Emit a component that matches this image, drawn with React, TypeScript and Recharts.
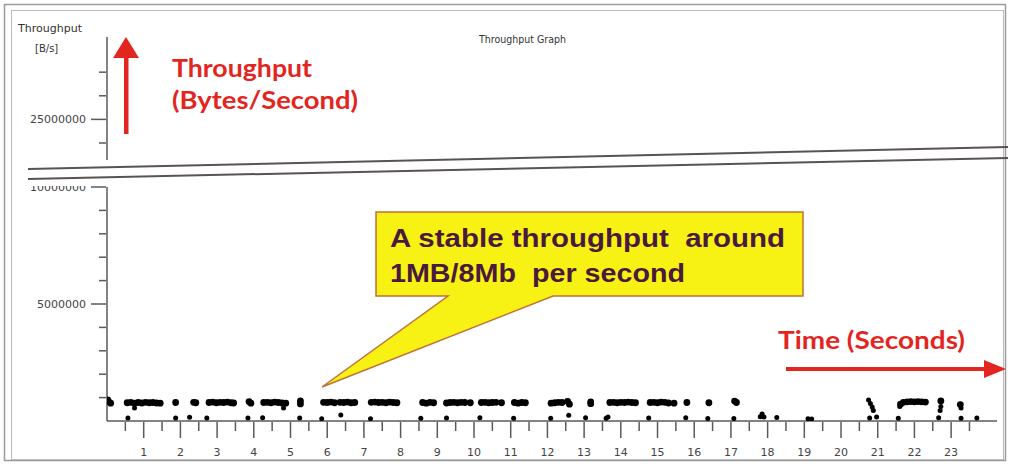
import { ScatterChart, Scatter, XAxis, YAxis } from 'recharts';

// time [s] / throughput [B/s]
const steadyTime = [
  0.02, 0.05, 0.1,
  0.55, 0.65, 0.75, 0.85, 0.95, 1.05, 1.15, 1.25, 1.35, 1.45,
  1.87, 2.36, 2.42,
  2.78, 2.88, 2.98, 3.08, 3.18, 3.28, 3.38, 3.45,
  3.87, 3.92,
  4.27, 4.37, 4.47, 4.57, 4.67, 4.77, 4.87,
  5.27, 5.27,
  5.9, 6.0, 6.1, 6.2, 6.35, 6.45, 6.55, 6.65, 6.75,
  7.2, 7.3, 7.4, 7.5, 7.6, 7.7, 7.8, 7.9,
  8.6, 8.7, 8.8, 8.9,
  9.25, 9.35, 9.45, 9.55, 9.65, 9.75, 9.9,
  10.2, 10.3, 10.4, 10.5, 10.6, 10.75,
  11.1, 11.2, 11.3, 11.4,
  12.1, 12.2, 12.3, 12.4, 12.55, 12.6,
  13.18, 13.18,
  13.7, 13.8, 13.9, 14.0, 14.1, 14.2, 14.3, 14.4,
  14.8, 14.9, 15.0, 15.1, 15.2, 15.3, 15.45,
  15.8, 16.4, 17.1, 17.15,
  21.62, 21.7, 21.8, 21.9, 22.0, 22.1, 22.2, 22.3,
  22.72, 23.25,
];
const steadyRate = [
  900000, 820000, 760000,
  780000, 800000, 760000, 790000, 770000, 800000, 780000, 790000, 770000, 760000,
  790000, 800000, 780000,
  790000, 810000, 780000, 800000, 790000, 810000, 780000, 770000,
  830000, 760000,
  790000, 800000, 780000, 810000, 790000, 770000, 760000,
  860000, 730000,
  800000, 790000, 810000, 780000, 800000, 790000, 810000, 780000, 790000,
  800000, 810000, 790000, 800000, 780000, 810000, 790000, 780000,
  790000, 760000, 800000, 780000,
  770000, 790000, 800000, 780000, 800000, 790000, 780000,
  790000, 800000, 780000, 790000, 800000, 780000,
  790000, 760000, 790000, 780000,
  760000, 780000, 800000, 790000, 840000, 720000,
  820000, 740000,
  790000, 800000, 780000, 800000, 790000, 810000, 790000, 780000,
  790000, 800000, 780000, 810000, 800000, 770000, 760000,
  790000, 780000, 850000, 790000,
  720000, 800000, 820000, 830000, 820000, 830000, 820000, 810000,
  860000, 700000,
];
const lowTime = [
  0.57, 0.75, 1.87, 2.25, 2.72, 3.84, 4.24, 4.81, 5.25, 5.85, 6.37, 7.18, 8.55,
  9.25, 10.16, 11.08, 12.09, 12.58, 13.04, 13.6, 13.65, 14.76, 15.77, 16.37,
  17.08, 17.8, 17.85, 17.9, 18.25, 19.1, 19.2, 20.75, 20.8, 20.85, 20.88, 20.78,
  20.97, 21.56, 21.6, 22.66, 22.7, 22.72, 23.27, 23.27, 23.7,
];
const lowRate = [
  130000, 560000, 130000, 160000, 130000, 130000, 140000, 560000, 130000, 100000,
  260000, 100000, 120000, 130000, 140000, 120000, 120000, 250000, 140000, 120000,
  170000, 130000, 140000, 110000, 110000, 180000, 300000, 170000, 150000, 100000,
  90000, 900000, 750000, 600000, 450000, 130000, 170000, 120000, 620000, 140000,
  450000, 620000, 560000, 120000, 130000,
];

const timeTicks = [
  0.5, 1, 1.5, 2, 2.5, 3, 3.5, 4, 4.5, 5, 5.5, 6, 6.5, 7, 7.5, 8, 8.5, 9, 9.5, 10,
  10.5, 11, 11.5, 12, 12.5, 13, 13.5, 14, 14.5, 15, 15.5, 16, 16.5, 17, 17.5, 18,
  18.5, 19, 19.5, 20, 20.5, 21, 21.5, 22, 22.5, 23, 23.5,
];
const lowerTicks = [1000000, 2000000, 3000000, 4000000, 5000000, 6000000, 7000000, 8000000, 9000000, 10000000];
const lowerLabels = [5000000, 10000000];
const upperTicks = [24000000, 25000000, 26000000, 27000000];
const upperLabels = [25000000];

const steady = steadyTime.map((t, i) => ({ t, v: steadyRate[i] }));
const low = lowTime.map((t, i) => ({ t, v: lowRate[i] }));

const AXIS = '#5a5a5a';
const RED = '#e2261f';
const FONT = 'DejaVu Sans';

function TimeTick({ x, y, payload }: any) {
  const major = Number.isInteger(payload.value);
  return (
    <g>
      <line x1={x} x2={x} y1={y + 1} y2={y + (major ? 17 : 10)} stroke={AXIS} strokeWidth={1.5} />
      {major && (
        <text x={x} y={y + 35} textAnchor="middle" fontSize={11} fill="#444" fontFamily={FONT}>
          {payload.value}
        </text>
      )}
    </g>
  );
}

const rateTick = (labels: number[]) =>
  function RateTick({ x, y, payload }: any) {
    const major = labels.includes(payload.value);
    return (
      <g>
        <line x1={x - (major ? 16 : 8)} x2={x - 1} y1={y} y2={y} stroke={AXIS} strokeWidth={1.5} />
        {major && (
          <text x={x - 21} y={y + 4} textAnchor="end" fontSize={11} fill="#444" fontFamily={FONT}>
            {String(payload.value)}
          </text>
        )}
      </g>
    );
  };

const dot = (r: number) => (p: any) => <circle cx={p.cx} cy={p.cy} r={r} fill="#000" />;

export default function App() {
  return (
    <div style={{ position: 'absolute', left: 0, top: 0, width: 1011, height: 464, background: '#fff', overflow: 'hidden' }}>
      <div style={{ position: 'absolute', left: 0, top: 0 }}>
        <ScatterChart width={1011} height={170} margin={{ top: 37, right: 14, bottom: 10, left: 0 }}>
          <XAxis type="number" dataKey="t" domain={[0, 24.25]} hide />
          <YAxis
            type="number"
            dataKey="v"
            width={107}
            domain={[23280000, 28490000]}
            ticks={upperTicks}
            interval={0}
            tickSize={0}
            tickMargin={0}
            tick={rateTick(upperLabels)}
            axisLine={{ stroke: AXIS, strokeWidth: 1.5 }}
            allowDataOverflow
          />
          <Scatter data={[]} isAnimationActive={false} />
        </ScatterChart>
      </div>
      <div style={{ position: 'absolute', left: 0, top: 186, width: 1011, height: 278, overflow: 'hidden' }}>
        <ScatterChart width={1011} height={278} margin={{ top: 1, right: 14, bottom: 0, left: 0 }}>
          <XAxis
            type="number"
            dataKey="t"
            domain={[0, 24.25]}
            ticks={timeTicks}
            interval={0}
            height={43}
            tickSize={0}
            tickMargin={0}
            tick={<TimeTick />}
            axisLine={{ stroke: AXIS, strokeWidth: 1.5 }}
            allowDataOverflow
          />
          <YAxis
            type="number"
            dataKey="v"
            width={107}
            domain={[0, 10000000]}
            ticks={lowerTicks}
            interval={0}
            tickSize={0}
            tickMargin={0}
            tick={rateTick(lowerLabels)}
            axisLine={{ stroke: AXIS, strokeWidth: 1.5 }}
            allowDataOverflow
          />
          <Scatter data={steady} shape={dot(3.4)} isAnimationActive={false} />
          <Scatter data={low} shape={dot(2.5)} isAnimationActive={false} />
        </ScatterChart>
      </div>
      <svg width={1011} height={464} style={{ position: 'absolute', left: 0, top: 0, pointerEvents: 'none' }}>
        <rect x={4.5} y={4.5} width={1001} height={456} fill="none" stroke="#9a9a9a" strokeWidth={1.5} />
        <rect x={11.5} y={10.5} width={992} height={449} fill="none" stroke="#bcbcbc" />
        <text x={18} y={32} fontSize={10} fill="#333" fontFamily={FONT} textLength={64} lengthAdjust="spacingAndGlyphs">
          Throughput
        </text>
        <text x={35} y={52} fontSize={10} fill="#333" fontFamily={FONT}>
          [B/s]
        </text>
        <text x={479} y={43} fontSize={10} fill="#333" fontFamily={FONT} textLength={87} lengthAdjust="spacingAndGlyphs">
          Throughput Graph
        </text>
        <line x1={28} y1={169} x2={1008} y2={147} stroke="#5a5353" strokeWidth={2} />
        <line x1={28} y1={179} x2={1008} y2={158} stroke="#5a5353" strokeWidth={2} />
        {/* red annotations */}
        <rect x={124} y={56} width={4.5} height={78} fill={RED} />
        <polygon points="113,58 139,58 126,37" fill={RED} />
        <text x={172} y={77} fontSize={25} fontWeight="bold" fill={RED} fontFamily="Lato" textLength={140} lengthAdjust="spacingAndGlyphs">
          Throughput
        </text>
        <text x={172} y={109} fontSize={25} fontWeight="bold" fill={RED} fontFamily="Lato" textLength={186} lengthAdjust="spacingAndGlyphs">
          (Bytes/Second)
        </text>
        <text x={778} y={349} fontSize={25} fontWeight="bold" fill={RED} fontFamily="Lato" textLength={187} lengthAdjust="spacingAndGlyphs">
          Time (Seconds)
        </text>
        <rect x={786} y={367} width={200} height={4} fill={RED} />
        <polygon points="984,360 984,378 1006,369" fill={RED} />
        {/* callout */}
        <path
          d="M376,212 L803,212 L803,296 L553,296 L322,387 L448,296 L376,296 Z"
          fill="#f7f214"
          stroke="#c0703a"
          strokeWidth={1.5}
          strokeLinejoin="miter"
        />
        <text x={390} y={247} fontSize={26} fontWeight="bold" fill="#4a1a3c" fontFamily="Liberation Sans" textLength={395} lengthAdjust="spacingAndGlyphs" xmlSpace="preserve">
          A stable throughput  around
        </text>
        <text x={390} y={282} fontSize={26} fontWeight="bold" fill="#4a1a3c" fontFamily="Liberation Sans" textLength={295} lengthAdjust="spacingAndGlyphs" xmlSpace="preserve">
          1MB/8Mb  per second
        </text>
      </svg>
    </div>
  );
}
